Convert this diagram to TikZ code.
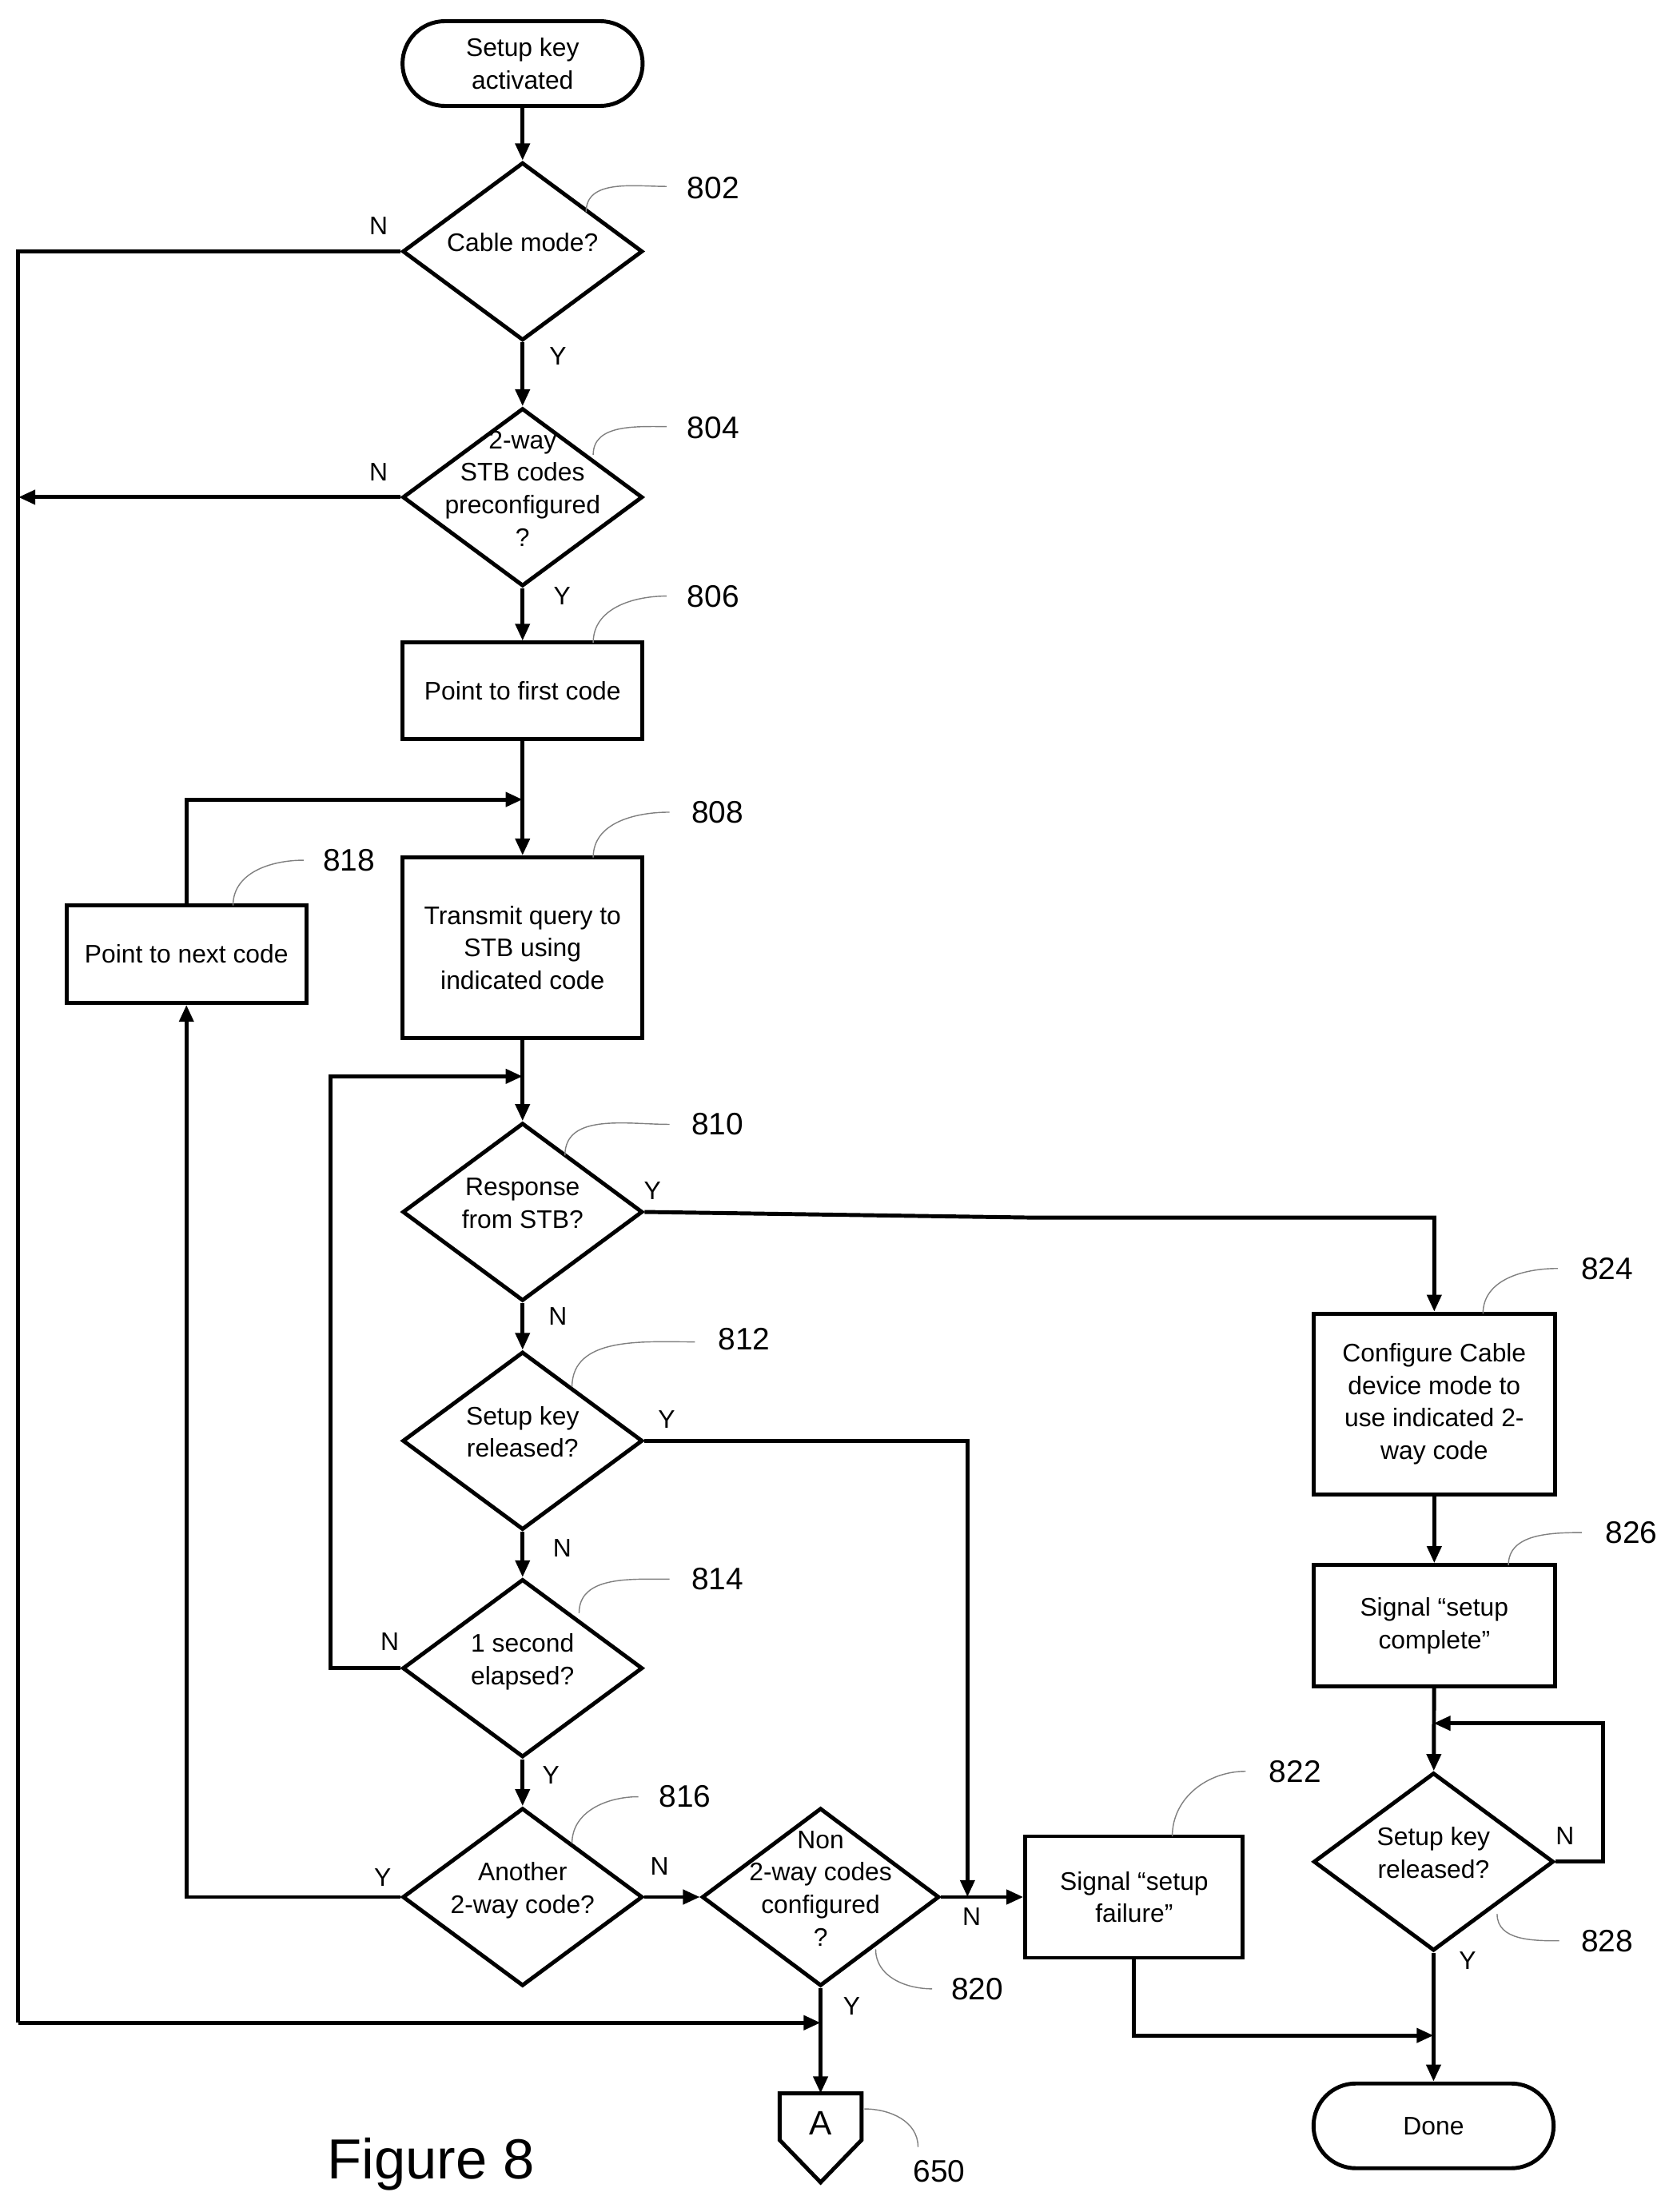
\documentclass[tikz,border=0pt]{standalone}
\usepackage{fontspec}
\setmainfont{Liberation Sans}
\usetikzlibrary{shapes.geometric,arrows.meta}
\newcommand{\zt}[1]{\smash{\makebox[0pt]{\begin{tabular}{@{}c@{}}#1\end{tabular}}}}
\begin{document}
\begin{tikzpicture}[x=0.5pt,y=-0.5pt,
  every node/.style={font=\fontsize{9}{11.5}\selectfont},
  ln/.style={line width=1.4pt},
  ar/.style={ln,-{Triangle[length=6pt,width=5pt]}},
  box/.style={draw,line width=1.4pt,rectangle,inner sep=0pt,align=center},
  dia/.style={draw,line width=1.4pt,diamond,inner sep=0pt,minimum width=85pt,minimum height=63pt},
  term/.style={draw,line width=1.4pt,rounded rectangle,minimum width=85pt,minimum height=30pt,align=center},
  lead/.style={draw=gray,line width=0.4pt},
  num/.style={font=\fontsize{11}{13}\selectfont},
  yn/.style={font=\fontsize{9}{11}\selectfont}]
\useasboundingbox (0,0) rectangle (1184,1566);
\tikzset{rounded rectangle/.style={rectangle,rounded corners=15pt}}
% nodes
\node[term] (start) at (370,45) {Setup key\\activated};
\node[dia] (d802) at (370,178) {\zt{Cable mode?}};
\node[dia] (d804) at (370,352) {\zt{2-way\\STB codes\\preconfigured\\?}};
\node[box,minimum width=85pt,minimum height=34pt] (b806) at (370,489) {Point to first code};
\node[box,minimum width=85pt,minimum height=64pt] (b808) at (370,671) {Transmit query to\\STB using\\indicated code};
\node[box,minimum width=85pt,minimum height=34.5pt] (b818) at (132,675.5) {Point to next code};
\node[dia] (d810) at (370,858) {\zt{Response\\from STB?}};
\node[dia] (d812) at (370,1020) {\zt{Setup key\\released?}};
\node[dia] (d814) at (370,1181) {\zt{1 second\\elapsed?}};
\node[dia] (d816) at (370,1343) {\zt{Another\\2-way code?}};
\node[dia,minimum width=84pt] (d820) at (581,1343) {\zt{Non\\2-way codes\\configured\\?}};
\node[box,minimum width=77pt,minimum height=43pt] (b822) at (803,1343) {Signal “setup\\failure”};
\node[box,minimum width=85.5pt,minimum height=64pt] (b824) at (1015.5,994) {Configure Cable\\device mode to\\use indicated 2-\\way code};
\node[box,minimum width=85.5pt,minimum height=43pt] (b826) at (1015.5,1151) {Signal “setup\\complete”};
\node[dia] (d828) at (1015,1318) {\zt{Setup key\\released?}};
\node[term] (done) at (1015,1505) {Done};
\node[font=\fontsize{12}{14}\selectfont,draw=none] (A) at (581,1503) {A};
\draw[ln] (552,1482) -- (610,1482) -- (610,1515) -- (581,1545) -- (552,1515) -- cycle;
\node[font=\fontsize{20}{24}\selectfont] (fig) at (305,1532) {Figure 8};
% coordinates
\coordinate (c1) at (13,178); \coordinate (c2) at (13,1432); \coordinate (c3) at (581,1432);
\coordinate (c4) at (13,352);
\coordinate (c5) at (132,566); \coordinate (c6) at (370,566);
\coordinate (c7) at (234,1181); \coordinate (c8) at (234,762); \coordinate (c9) at (370,762);
\coordinate (c10) at (730,862); \coordinate (c11) at (1015.5,862);
\coordinate (c12) at (685,1020); \coordinate (c13) at (685,1343);
\coordinate (c14) at (132,1343);
\coordinate (c15) at (803,1441); \coordinate (c16) at (1015,1441);
\coordinate (c17) at (1135,1318); \coordinate (c18) at (1135,1220); \coordinate (c19) at (1015,1220);
% connectors
\draw[ar] (start) -- (d802);
\draw[ln] (d802.west) -- (c1) -- (c2);
\draw[ar] (c2) -- (c3);
\draw[ar] (d802) -- (d804);
\draw[ar] (d804.west) -- (c4);
\draw[ar] (d804) -- (b806);
\draw[ln] (b806) -- (c6);
\draw[ar] (c6) -- (b808);
\draw[ar] (b818.north) -- (c5) -- (c6);
\draw[ln] (b808) -- (c9);
\draw[ar] (c9) -- (d810);
\draw[ar] (d814.west) -- (c7) -- (c8) -- (c9);
\draw[ar] (d810.east) -- (c10) -- (c11) -- (b824.north);
\draw[ar] (d810) -- (d812);
\draw[ar] (d812.east) -- (c12) -- (c13);
\draw[ar] (d812) -- (d814);
\draw[ar] (d814) -- (d816);
\draw[ar] (d816.west) -- (c14) -- (b818.south);
\draw[ar] (d816.east) -- (d820.west);
\draw[ar] (d820.east) -- (b822.west);
\draw[ar] (d820.south) -- (581,1482);
\draw[ar] (b822.south) -- (c15) -- (c16);
\draw[ar] (b824) -- (b826);
\draw[ar] (b826) -- (d828);
\draw[ar] (d828.east) -- (c17) -- (c18) -- (c19);
\draw[ar] (d828) -- (done);
% Y/N labels
\node[yn] at (268,160) {N}; \node[yn] at (395,252) {Y};
\node[yn] at (268,334) {N}; \node[yn] at (398,422) {Y};
\node[yn] at (462,843) {Y}; \node[yn] at (395,932) {N};
\node[yn] at (472,1005) {Y}; \node[yn] at (398,1096) {N};
\node[yn] at (276,1162) {N}; \node[yn] at (390,1257) {Y};
\node[yn] at (271,1329) {Y}; \node[yn] at (467,1321) {N};
\node[yn] at (688,1357) {N}; \node[yn] at (603,1420) {Y};
\node[yn] at (1108,1300) {N}; \node[yn] at (1039,1388) {Y};
% reference numbers with leaders
\node[num] (n802) at (505,133) {802}; \draw[lead] (415,150) to[out=90,in=180] (472,132);
\node[num] (n804) at (505,303) {804}; \draw[lead] (420,322) to[out=90,in=180] (472,302);
\node[num] (n806) at (505,422) {806}; \draw[lead] (420,455) to[out=90,in=180] (472,422);
\node[num] (n808) at (508,575) {808}; \draw[lead] (420,607) to[out=90,in=180] (474,575);
\node[num] (n818) at (247,609) {818}; \draw[lead] (165,641) to[out=90,in=180] (215,609);
\node[num] (n810) at (508,796) {810}; \draw[lead] (400,818) to[out=90,in=180] (474,796);
\node[num] (n812) at (527,948) {812}; \draw[lead] (405,982) to[out=90,in=180] (492,950);
\node[num] (n814) at (508,1118) {814}; \draw[lead] (410,1142) to[out=90,in=180] (474,1118);
\node[num] (n816) at (485,1272) {816}; \draw[lead] (405,1305) to[out=90,in=180] (452,1272);
\node[num] (n820) at (692,1408) {820}; \draw[lead] (620,1380) to[out=-90,in=180] (660,1408);
\node[num] (n822) at (917,1254) {822}; \draw[lead] (830,1300) to[out=90,in=180] (882,1254);
\node[num] (n824) at (1138,898) {824}; \draw[lead] (1050,930) to[out=90,in=180] (1103,898);
\node[num] (n826) at (1155,1085) {826}; \draw[lead] (1068,1108) to[out=90,in=180] (1120,1085);
\node[num] (n828) at (1138,1374) {828}; \draw[lead] (1060,1355) to[out=-90,in=180] (1104,1374);
\node[num] (n650) at (665,1537) {650}; \draw[lead] (612,1493) to[out=0,in=90] (650,1520);
\end{tikzpicture}
\end{document}
